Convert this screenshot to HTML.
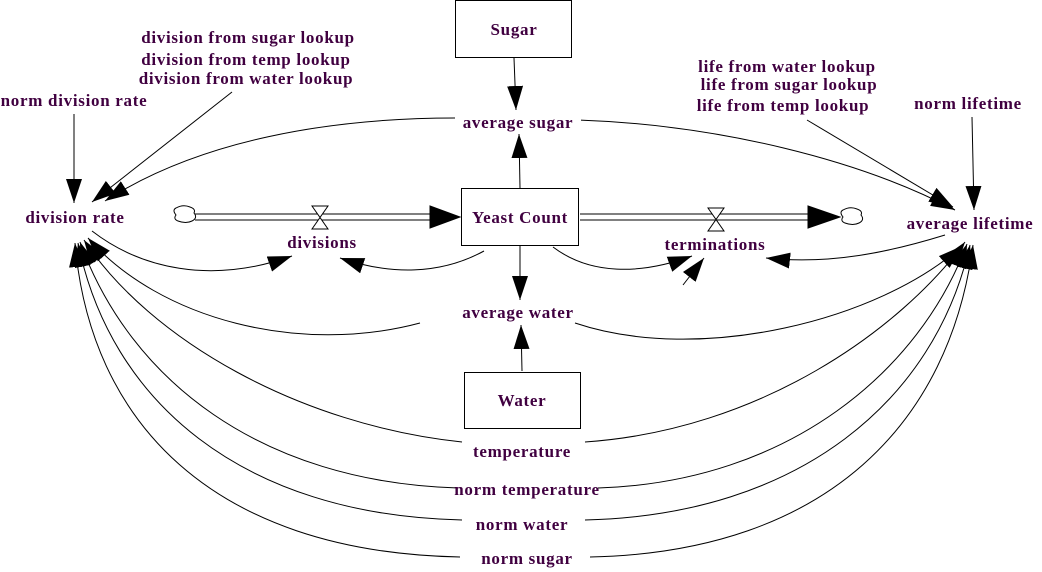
<!DOCTYPE html>
<html><head><style>
html,body{margin:0;padding:0;background:#fff;}
svg{display:block;}
text{font-family:"Liberation Serif",serif;font-weight:bold;font-size:17px;letter-spacing:0.7px;fill:#400040;text-anchor:middle;}
</style></head><body>
<svg width="1042" height="572" viewBox="0 0 1042 572" xmlns="http://www.w3.org/2000/svg">
<defs>
<marker id="a" markerUnits="userSpaceOnUse" markerWidth="26" markerHeight="18" refX="24" refY="9" orient="auto">
<path d="M0,1 L24,9 L0,17 Z" fill="#000"/>
</marker>
</defs>
<g fill="none" stroke="#000" stroke-width="1">
<rect x="455.5" y="0.5" width="116" height="57" fill="#fff"/>
<rect x="461.5" y="188.5" width="117" height="57" fill="#fff"/>
<rect x="464.5" y="372.5" width="116" height="56" fill="#fff"/>
<line x1="195" y1="214" x2="440" y2="214"/>
<line x1="195" y1="220" x2="440" y2="220"/>
<line x1="580" y1="214" x2="820" y2="214"/>
<line x1="580" y1="220" x2="820" y2="220"/>
<path d="M430,206 L460,217 L430,228 Z" fill="#000"/>
<path d="M808,206 L840,217 L808,228 Z" fill="#000"/>
<path d="M312,206 L328,206 L312,229 L328,229 Z" fill="#fff"/>
<path d="M708,208 L724,208 L708,231 L724,231 Z" fill="#fff"/>
<path d="M176,208 q7,-4 14,-1 q6,2 4,6 q4,5 -2,8 q-6,3 -14,0 q-5,-2 -2,-6 q-4,-5 0,-7 Z" fill="#fff"/>
<path d="M843,210 q7,-4 14,-1 q6,2 4,6 q4,5 -2,8 q-6,3 -14,0 q-5,-2 -2,-6 q-4,-5 0,-7 Z" fill="#fff"/>
<line x1="514" y1="58" x2="516" y2="110" marker-end="url(#a)"/>
<line x1="520" y1="188" x2="519" y2="134" marker-end="url(#a)"/>
<line x1="520" y1="246" x2="520" y2="300" marker-end="url(#a)"/>
<line x1="522" y1="371" x2="521" y2="325" marker-end="url(#a)"/>
<line x1="74" y1="114" x2="74" y2="203" marker-end="url(#a)"/>
<line x1="232" y1="92" x2="92" y2="202" marker-end="url(#a)"/>
<line x1="807" y1="120" x2="953" y2="207" marker-end="url(#a)"/>
<line x1="972" y1="117" x2="974" y2="210" marker-end="url(#a)"/>
<line x1="683" y1="285" x2="704" y2="258" marker-end="url(#a)"/>
<path d="M455,118 C330,118 200,140 105,201" marker-end="url(#a)"/>
<path d="M578,120 C720,125 860,160 955,210" marker-end="url(#a)"/>
<path d="M92,231 C140,268 210,285 292,256" marker-end="url(#a)"/>
<path d="M484,251 C440,275 390,275 340,258" marker-end="url(#a)"/>
<path d="M553,247 C590,275 640,275 692,256" marker-end="url(#a)"/>
<path d="M945,235 C890,252 830,265 766,258" marker-end="url(#a)"/>
<path d="M420,323 C300,355 160,320 88,238" marker-end="url(#a)"/>
<path d="M575,323 C700,365 880,320 962,246" marker-end="url(#a)"/>
<path d="M462,442 C300,425 150,340 84,240" marker-end="url(#a)"/>
<path d="M585,442 C760,430 900,330 965,242" marker-end="url(#a)"/>
<path d="M458,488 C260,482 130,380 80,242" marker-end="url(#a)"/>
<path d="M598,488 C790,482 920,370 967,244" marker-end="url(#a)"/>
<path d="M462,520 C240,515 110,400 78,243" marker-end="url(#a)"/>
<path d="M585,520 C800,515 935,400 970,245" marker-end="url(#a)"/>
<path d="M460,557 C210,552 90,420 75,243" marker-end="url(#a)"/>
<path d="M590,557 C830,552 950,420 973,245" marker-end="url(#a)"/>
</g>
<g>
<rect x="455" y="114" width="126" height="16" fill="#fff"/>
<rect x="462" y="303" width="116" height="16" fill="#fff"/>
<text x="514" y="35">Sugar</text>
<text x="520" y="223">Yeast Count</text>
<text x="522" y="406">Water</text>
<text x="518" y="128">average sugar</text>
<text x="518" y="318">average water</text>
<text x="75" y="223">division rate</text>
<text x="322" y="248">divisions</text>
<text x="715" y="250">terminations</text>
<text x="970" y="229">average lifetime</text>
<text x="74" y="106">norm division rate</text>
<text x="248" y="43">division from sugar lookup</text>
<text x="246" y="65">division from temp lookup</text>
<text x="246" y="84">division from water lookup</text>
<text x="787" y="72">life from water lookup</text>
<text x="789" y="90">life from sugar lookup</text>
<text x="783" y="111">life from temp lookup</text>
<text x="968" y="109">norm lifetime</text>
<text x="522" y="457">temperature</text>
<text x="527" y="495">norm temperature</text>
<text x="522" y="530">norm water</text>
<text x="527" y="564">norm sugar</text>
</g>
</svg>
</body></html>
